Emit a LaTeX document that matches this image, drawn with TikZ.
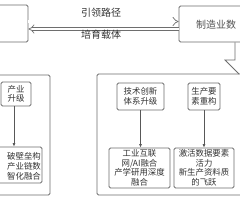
\documentclass[tikz,border=0pt]{standalone}
\usepackage{fontspec}
\setmainfont{Noto Sans CJK SC}
\usetikzlibrary{arrows.meta}
\definecolor{lg}{HTML}{6E6E6E}
\definecolor{tx}{HTML}{333333}
\begin{document}
\begin{tikzpicture}[x=1pt,y=-1pt,
  ln/.style={draw=lg, line width=0.8pt},
  bx/.style={ln, rounded corners=1.5pt, inner sep=0pt, align=center, text=tx,
    font=\fontsize{8.4}{9.6}\selectfont},
  lbl/.style={text=tx, font=\fontsize{10}{12}\selectfont, inner sep=0pt},
  dbl/.style={draw=lg, line width=0.7pt, double=white, double distance=2.4pt, -{Implies}},
  arr/.style={draw=lg!80!black, line width=0.7pt, -{Latex[length=3.5pt,width=3pt]}}]
\useasboundingbox (0,0) rectangle (240,200);
\fill[white] (0,0) rectangle (240,200);
\clip (0,0) rectangle (240,200);
% top boxes
\node[bx, minimum width=48pt, minimum height=37pt] (tl) at (4,23.5) {};
\node[bx, minimum width=84pt, minimum height=36pt] (tr) at (221,24) {};
\node[lbl, anchor=west, text=tx!85] (tt) at (196,25) {制造业数};
% double arrows
\coordinate (ua) at (0,21.5);
\coordinate (la) at (0,29);
\draw[dbl] (tl.east|-ua) -- (tr.west|-ua);
\draw[dbl] (tr.west|-la) -- (tl.east|-la);
\node[lbl] (l1) at (101,13) {引领路径};
\node[lbl] (l2) at (101,35) {培育载体};
% block arrow from top-right box
\coordinate (ba1) at (235,60);
\coordinate (ba2) at (225,60);
\coordinate (ba3) at (239,74);
\draw[ln] (tr.south-|ba1) -- (ba1) -- (ba2) -- (ba3);
% left panel
\node[bx, minimum width=62pt, minimum height=120pt] (pl) at (19,135) {};
\node[bx, minimum width=30pt, minimum height=24pt] (b1) at (16,94) {产业\\升级};
\node[bx, minimum width=58pt, minimum height=36pt] (b2) at (13,165) {};
\node[text=tx, font=\fontsize{8.4}{10.2}\selectfont, align=right, inner sep=0pt, anchor=east] (b2t) at (41,166) {破壁垒构\\产业链数\\智化融合};
\coordinate (ax) at (14,0);
\draw[arr] (b1.south-|ax) -- (b2.north-|ax);
% middle panel
\node[bx, minimum width=170pt, minimum height=121pt] (pm) at (182,134.5) {};
\node[bx, minimum width=47pt, minimum height=27pt] (t1) at (140.5,96.5) {技术创新\\体系升级};
\node[bx, minimum width=61pt, minimum height=40pt] (g1) at (139.5,168) {工业互联\\网/AI融合\\产学研用深度\\融合};
\node[bx, minimum width=32pt, minimum height=27pt] (t2) at (204,96.5) {生产要\\素重构};
\node[bx, minimum width=60pt, minimum height=40pt] (g2) at (204,168) {激活数据要素\\活力\\新生产资料质\\的飞跃};
\draw[arr] (t1.south) -- (t1.south|-g1.north);
\draw[arr] (t2.south) -- (t2.south|-g2.north);
\end{tikzpicture}
\end{document}
